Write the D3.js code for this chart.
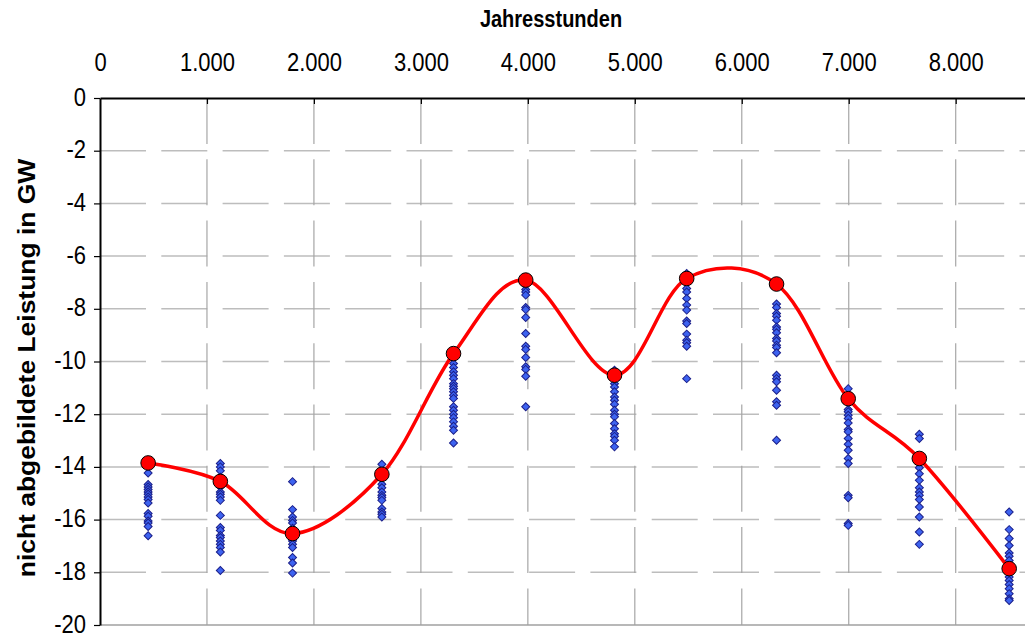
<!DOCTYPE html>
<html>
<head>
<meta charset="utf-8">
<script src="https://cdn.jsdelivr.net/npm/d3@7"></script>
<style>
  body { margin: 0; background: #fff; }
  svg { display: block; font-family: "Liberation Sans", Arial, sans-serif; }
</style>
</head>
<body>
<script>
// Jahresstunden of each group (x) and mean value of the group (red points)
const hours = [450, 1125, 1800, 2635, 3305, 3980, 4810, 5485, 6325, 6995, 7660, 8500];
const meanValues = [-13.85, -14.55, -16.53, -14.28, -9.70, -6.91, -10.52, -6.85, -7.06, -11.41, -13.68, -17.86];

// single values of each group (blue diamonds)
const groupValues = [
    [-14.23, -14.67, -14.76, -14.86, -14.95, -15.04, -15.14, -15.24, -15.37, -15.77, -15.87, -16.05, -16.13, -16.26, -16.61],
    [-13.87, -14.00, -14.15, -14.39, -14.76, -14.95, -15.04, -15.14, -15.27, -15.84, -16.30, -16.41, -16.60, -16.68, -16.81, -16.94, -17.06, -17.23, -17.93],
    [-14.56, -15.62, -15.90, -16.03, -16.13, -16.33, -16.68, -16.81, -16.94, -17.06, -17.44, -17.65, -18.03],
    [-13.90, -14.43, -14.66, -14.79, -14.95, -15.08, -15.16, -15.27, -15.58, -15.71, -15.80, -15.90],
    [-10.08, -10.23, -10.39, -10.52, -10.65, -10.84, -10.94, -11.03, -11.15, -11.28, -11.40, -11.72, -11.85, -12.00, -12.13, -12.29, -12.46, -12.61, -13.09],
    [-7.10, -7.27, -7.36, -7.48, -7.95, -8.03, -8.33, -8.94, -9.42, -9.54, -9.85, -10.20, -10.30, -10.56, -11.72],
    [-10.33, -10.84, -10.97, -11.15, -11.35, -11.47, -11.62, -11.85, -12.00, -12.10, -12.35, -12.55, -12.74, -12.84, -12.99, -13.24],
    [-6.66, -7.23, -7.36, -7.61, -7.86, -8.05, -8.46, -8.56, -8.96, -9.19, -9.29, -9.42, -10.65],
    [-7.82, -7.95, -8.18, -8.28, -8.43, -8.69, -8.78, -8.91, -9.13, -9.22, -9.38, -9.47, -9.67, -10.52, -10.65, -10.77, -11.09, -11.53, -11.66, -12.99],
    [-11.03, -11.82, -11.91, -12.04, -12.16, -12.33, -12.58, -12.67, -12.92, -13.14, -13.37, -13.68, -13.87, -15.08, -15.17, -16.15, -16.22],
    [-12.76, -12.92, -13.87, -14.03, -14.26, -14.51, -14.79, -14.95, -15.08, -15.24, -15.52, -15.90, -16.47, -16.94],
    [-15.71, -16.38, -16.72, -16.98, -17.27, -17.39, -17.55, -18.18, -18.31, -18.46, -18.62, -18.81, -19.00, -19.07]
];

const xTicks = [0, 1000, 2000, 3000, 4000, 5000, 6000, 7000, 8000];
const yTicks = [0, -2, -4, -6, -8, -10, -12, -14, -16, -18, -20];

const width = 1025;
const height = 637;
const stretch = 1.15; // text in the picture is a bit taller than wide

const svg = d3.select("body")
    .append("svg")
    .attr("width", width)
    .attr("height", height);

const x = d3.scaleLinear().domain([0, 8760]).range([100, 1037]);
const y = d3.scaleLinear().domain([0, -20]).range([98, 625]);

const fmt = d3.formatLocale({ decimal: ",", thousands: ".", grouping: [3], currency: ["", ""], minus: "-" }).format(",");

// Gridlines (dashed)
svg.append("g")
    .selectAll("line")
    .data(yTicks.slice(1, -1))
    .enter()
    .append("line")
    .attr("x1", x(0)).attr("x2", width)
    .attr("y1", d => y(d)).attr("y2", d => y(d))
    .attr("stroke", "#bdbdbd")
    .attr("stroke-width", 1.5)
    .attr("stroke-dasharray", "46,15.3");

svg.append("g")
    .selectAll("line")
    .data(xTicks.slice(1))
    .enter()
    .append("line")
    .attr("x1", d => x(d)).attr("x2", d => x(d))
    .attr("y1", y(0)).attr("y2", y(-20))
    .attr("stroke", "#a6a6a6")
    .attr("stroke-width", 1.2)
    .attr("stroke-dasharray", "46,15.3");

// bottom border
svg.append("line")
    .attr("x1", x(0)).attr("x2", width)
    .attr("y1", y(-20)).attr("y2", y(-20))
    .attr("stroke", "#a0a0a0")
    .attr("stroke-width", 1.5);

// Blue diamonds
const points = [];
groupValues.forEach((vals, i) => vals.forEach(v => points.push({ h: hours[i], v })));

svg.append("g")
    .selectAll("path")
    .data(points)
    .enter()
    .append("path")
    .attr("d", d3.symbol(d3.symbolSquare, 32))
    .attr("transform", d => `translate(${x(d.h)},${y(d.v)}) rotate(45)`)
    .attr("fill", "#3d63f0")
    .attr("stroke", "#1b1f8a")
    .attr("stroke-width", 1);

// Smoothed red line
const means = hours.map((h, i) => ({ h, v: meanValues[i] }));

svg.append("path")
    .datum(means)
    .attr("fill", "none")
    .attr("stroke", "#ff0000")
    .attr("stroke-width", 3.5)
    .attr("d", d3.line()
        .curve(d3.curveCardinal.tension(0))
        .x(d => x(d.h))
        .y(d => y(d.v)));

svg.append("g")
    .selectAll("circle")
    .data(means)
    .enter()
    .append("circle")
    .attr("cx", d => x(d.h))
    .attr("cy", d => y(d.v))
    .attr("r", 7.3)
    .attr("fill", "#ff0000")
    .attr("stroke", "#000")
    .attr("stroke-width", 1);

// Axes
const xAxis = svg.append("g")
    .attr("transform", `translate(0,${y(0)})`)
    .call(d3.axisTop(x).tickValues(xTicks).tickFormat(fmt).tickSize(-6).tickSizeOuter(0).tickPadding(23.5));

const yAxis = svg.append("g")
    .attr("transform", `translate(${x(0)},0)`)
    .call(d3.axisLeft(y).tickValues(yTicks).tickFormat(fmt).tickSize(6).tickSizeOuter(0).tickPadding(8));

[xAxis, yAxis].forEach(ax => {
    ax.attr("font-family", null).attr("font-size", null);
    ax.select(".domain").attr("stroke", "#000").attr("stroke-width", 2);
    ax.selectAll(".tick line").attr("stroke", "#000").attr("stroke-width", 1.2);
    ax.selectAll(".tick text")
        .attr("fill", "#000")
        .style("font-size", "22px")
        .attr("transform", `scale(1,${stretch})`);
});
yAxis.selectAll(".tick text").attr("dy", "0.28em");
xAxis.select(".tick line").remove(); // the 0 tick sits on the y axis

// Axis titles
svg.append("text")
    .attr("transform", `translate(551,27) scale(1,${stretch})`)
    .attr("text-anchor", "middle")
    .attr("font-size", 20)
    .attr("font-weight", 700)
    .text("Jahresstunden");

svg.append("text")
    .attr("transform", `translate(35,368) scale(1,${stretch}) rotate(-90)`)
    .attr("text-anchor", "middle")
    .attr("font-size", 23)
    .attr("font-weight", 700)
    .text("nicht abgebildete Leistung in GW");
</script>
</body>
</html>
